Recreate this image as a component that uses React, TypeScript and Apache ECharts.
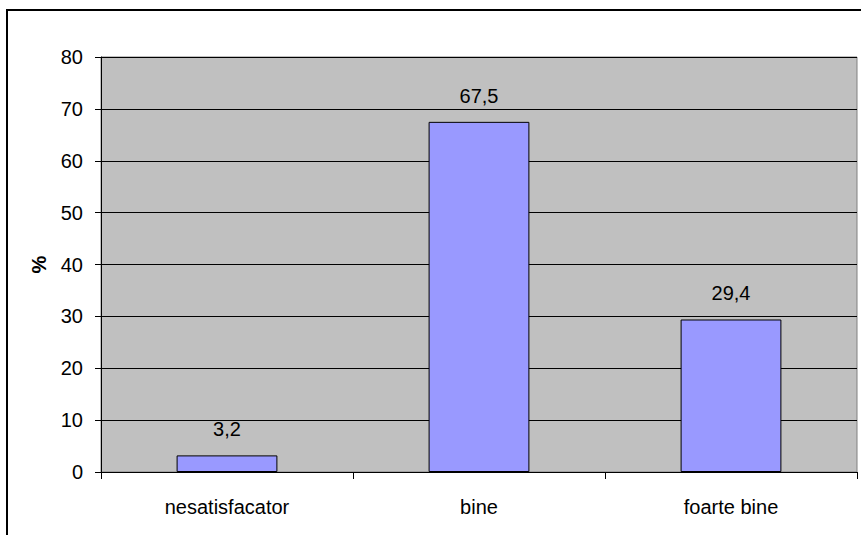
import React, { useEffect, useRef } from "react";
import * as echarts from "echarts";

const categories = ["nesatisfacator", "bine", "foarte bine"];
const values = [3.2, 67.5, 29.4];
const yMin = 0;
const yMax = 80;
const yInterval = 10;

const FONT = "'Liberation Sans', Arial, sans-serif";

export default function App() {
  const ref = useRef<HTMLDivElement>(null);
  useEffect(() => {
    if (!ref.current) return;
    const chart = echarts.init(ref.current, undefined, { renderer: "svg" });
    chart.setOption({
      animation: false,
      backgroundColor: "#ffffff",
      textStyle: { fontFamily: FONT },
      graphic: [
        {
          type: "rect",
          shape: { x: 7, y: 10, width: 900, height: 600 },
          style: { fill: "none", stroke: "#000000", lineWidth: 2 },
          silent: true,
        },
      ],
      grid: {
        left: 101,
        right: 4,
        top: 57,
        bottom: 63,
        show: true,
        backgroundColor: "#C0C0C0",
        borderColor: "#808080",
        borderWidth: 1,
      },
      xAxis: {
        type: "category",
        data: categories,
        axisLine: { show: true, lineStyle: { color: "#000000", width: 1 } },
        axisTick: { show: true, alignWithLabel: false, length: 7, lineStyle: { color: "#000000" } },
        axisLabel: { color: "#000000", fontSize: 20, fontFamily: FONT, margin: 25 },
        splitLine: { show: false },
      },
      yAxis: {
        type: "value",
        min: yMin,
        max: yMax,
        interval: yInterval,
        name: "%",
        nameLocation: "middle",
        nameGap: 52,
        nameRotate: 90,
        nameTextStyle: { color: "#000000", fontSize: 20, fontWeight: "bold", fontFamily: FONT },
        axisLine: { show: true, lineStyle: { color: "#000000", width: 1 } },
        axisTick: { show: true, length: 6, lineStyle: { color: "#000000" } },
        axisLabel: { color: "#000000", fontSize: 20, fontFamily: FONT, margin: 18 },
        splitLine: { show: true, lineStyle: { color: "#000000", width: 1 } },
      },
      series: [
        {
          type: "bar",
          data: values,
          barWidth: "40%",
          itemStyle: { color: "#9999FF", borderColor: "#000000", borderWidth: 1 },
          label: {
            show: true,
            position: "top",
            distance: 16,
            color: "#000000",
            fontSize: 20,
            fontFamily: FONT,
            formatter: (p: any) => String(p.value).replace(".", ","),
          },
        },
      ],
    });
    return () => chart.dispose();
  }, []);
  return (
    <div
      ref={ref}
      style={{ position: "fixed", left: 0, top: 0, width: 861, height: 535 }}
    />
  );
}
